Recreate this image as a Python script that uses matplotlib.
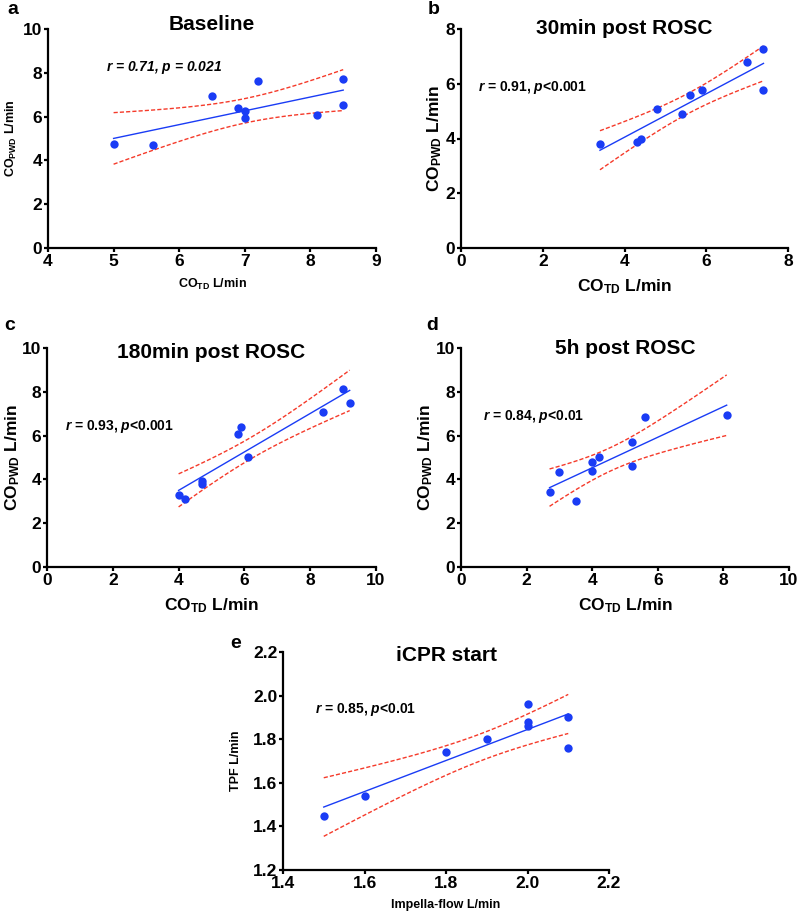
import numpy as np
import matplotlib.pyplot as plt

plt.rcParams['font.family'] = 'Liberation Sans'
plt.rcParams['font.weight'] = 'bold'
plt.rcParams['mathtext.fontset'] = 'custom'
plt.rcParams['mathtext.rm'] = 'Liberation Sans:bold'
plt.rcParams['mathtext.it'] = 'Liberation Sans:italic:bold'
plt.rcParams['mathtext.bf'] = 'Liberation Sans:bold'

# data
base_x = [5.0, 5.6, 6.5, 6.9, 7.0, 7.0, 7.2, 8.1, 8.5, 8.5]
base_y = [4.73, 4.69, 6.92, 6.41, 6.24, 5.92, 7.62, 6.06, 7.71, 6.53]

m30_x = [3.4, 4.3, 4.4, 4.8, 5.4, 5.6, 5.9, 7.0, 7.4, 7.4]
m30_y = [3.80, 3.88, 3.99, 5.08, 4.88, 5.59, 5.78, 6.78, 7.28, 5.78]

m180_x = [4.0, 4.2, 4.7, 4.7, 5.8, 5.9, 6.1, 8.4, 9.0, 9.2]
m180_y = [3.30, 3.10, 3.92, 3.77, 6.09, 6.40, 5.01, 7.10, 8.11, 7.50]

h5_x = [2.7, 3.0, 3.5, 4.0, 4.0, 4.2, 5.2, 5.2, 5.6, 8.1]
h5_y = [3.42, 4.35, 3.01, 4.81, 4.40, 5.01, 5.73, 4.61, 6.87, 6.93]

icpr_x = [1.5, 1.6, 1.8, 1.9, 2.0, 2.0, 2.0, 2.1, 2.1]
icpr_y = [1.45, 1.54, 1.74, 1.80, 1.96, 1.88, 1.86, 1.90, 1.76]

# two-sided 95% t values
T95 = {7: 2.365, 8: 2.306}

W, H = 797, 917
DOT = '#1a3cf5'
RED = '#f53a2a'

fig = plt.figure(figsize=(W / 100, H / 100), dpi=100)


def add_ax(left, top, right, bottom):
    return fig.add_axes([left / W, 1 - bottom / H, (right - left) / W, (bottom - top) / H])


def panel(ax, x, y, xlim, xticks, xfmt, ylim, yticks, yfmt, title, ty, note, nx, ny,
          xlab, ylab, labsize, ypad, letter, lx, ly):
    x = np.array(x)
    y = np.array(y)
    n = len(x)
    b, a = np.polyfit(x, y, 1)
    xs = np.linspace(x.min(), x.max(), 100)
    yh = a + b * xs
    res = y - (a + b * x)
    s = np.sqrt(np.sum(res ** 2) / (n - 2))
    se = s * np.sqrt(1 / n + (xs - x.mean()) ** 2 / np.sum((x - x.mean()) ** 2))
    t = T95[n - 2]
    ax.plot(xs, yh, color=DOT, lw=1.0, zorder=2)
    ax.plot(xs, yh + t * se, color=RED, lw=1.0, ls=(0, (3, 1.5)), zorder=2)
    ax.plot(xs, yh - t * se, color=RED, lw=1.0, ls=(0, (3, 1.5)), zorder=2)
    ax.scatter(x, y, s=36, color=DOT, zorder=3, linewidths=0)

    ax.set_xlim(xlim)
    ax.set_ylim(ylim)
    ax.set_xticks(xticks)
    ax.set_yticks(yticks)
    ax.set_xticklabels([xfmt.format(v) for v in xticks])
    ax.set_yticklabels([yfmt.format(v) for v in yticks])
    for sp in ['top', 'right']:
        ax.spines[sp].set_visible(False)
    for sp in ['left', 'bottom']:
        ax.spines[sp].set_linewidth(1.6)
    ax.tick_params(width=1.6, length=3, labelsize=12.5, pad=1)
    ax.set_xlabel(xlab, fontsize=labsize, fontweight='bold', labelpad=6)
    ax.set_ylabel(ylab, fontsize=labsize, fontweight='bold', labelpad=ypad)
    ax.text(0.5, ty, title, transform=ax.transAxes, ha='center', va='center',
            fontsize=15, fontweight='bold')
    ax.text(nx, ny, note, transform=ax.transAxes, ha='left', va='center',
            fontsize=10, fontweight='bold')
    fig.text(lx / W, 1 - ly / H, letter, ha='center', va='center',
             fontsize=14, fontweight='bold')


pwd = 'CO$_\\mathrm{PWD}$ L/min'
td = 'CO$_\\mathrm{TD}$ L/min'

ax = add_ax(48, 29, 376, 248)
panel(ax, base_x, base_y, (4, 9), [4, 5, 6, 7, 8, 9], '{:d}', (0, 10), [0, 2, 4, 6, 8, 10], '{:d}',
      'Baseline', 1.02, '$r$ = 0.71, $p$ = 0.021', 0.177, 0.826,
      td, pwd, 9, 3, 'a', 13, 10)
ax.texts[-1].set_fontstyle('italic')

ax = add_ax(461, 29, 788, 248)
panel(ax, m30_x, m30_y, (0, 8), [0, 2, 4, 6, 8], '{:d}', (0, 8), [0, 2, 4, 6, 8], '{:d}',
      '30min post ROSC', 1.0, '$r$ = 0.91, $p$<0.001', 0.052, 0.735,
      td, pwd, 12.5, 1, 'b', 434, 10)

ax = add_ax(47, 348, 376, 567)
panel(ax, m180_x, m180_y, (0, 10), [0, 2, 4, 6, 8, 10], '{:d}', (0, 10), [0, 2, 4, 6, 8, 10], '{:d}',
      '180min post ROSC', 0.98, '$r$ = 0.93, $p$<0.001', 0.055, 0.64,
      td, pwd, 12.5, 0, 'c', 10, 326)

ax = add_ax(461, 348, 789, 567)
panel(ax, h5_x, h5_y, (0, 10), [0, 2, 4, 6, 8, 10], '{:d}', (0, 10), [0, 2, 4, 6, 8, 10], '{:d}',
      '5h post ROSC', 1.0, '$r$ = 0.84, $p$<0.01', 0.067, 0.685,
      td, pwd, 12.5, 1, 'd', 432, 326)

ax = add_ax(283, 652, 609, 870)
panel(ax, icpr_x, icpr_y, (1.4, 2.2), [1.4, 1.6, 1.8, 2.0, 2.2], '{:.1f}', (1.2, 2.2),
      [1.2, 1.4, 1.6, 1.8, 2.0, 2.2], '{:.1f}',
      'iCPR start', 0.986, '$r$ = 0.85, $p$<0.01', 0.098, 0.734,
      'Impella-flow L/min', 'TPF L/min', 9, 8, 'e', 236, 643)

fig.savefig('out.png', dpi=100)
